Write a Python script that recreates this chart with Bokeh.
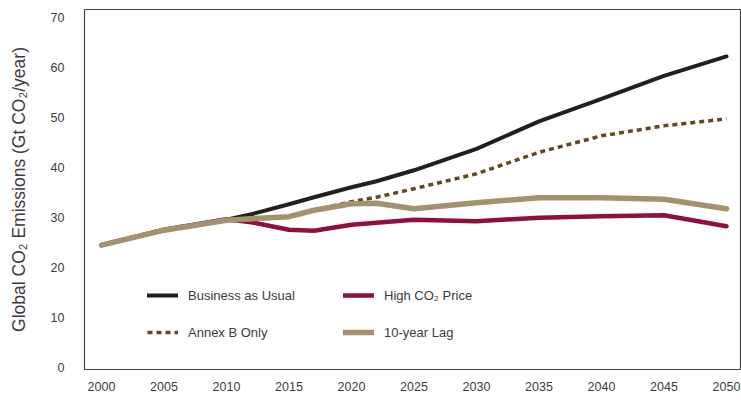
from bokeh.plotting import figure
from bokeh.models import Range1d, FixedTicker, Legend, LegendItem, ColumnDataSource
from bokeh.embed import file_html
from bokeh.resources import INLINE

# ---- data ----
years = [2000, 2005, 2010, 2012, 2015, 2017, 2020, 2022, 2025, 2030, 2035, 2040, 2045, 2050]
business_as_usual = [24.5, 27.5, 29.6, 30.7, 32.7, 34.1, 36.1, 37.3, 39.5, 43.8, 49.3, 53.8, 58.4, 62.3]
annex_b_only = [24.5, 27.5, 29.5, 29.8, 30.2, 31.5, 33.2, 34.1, 35.8, 38.8, 43.1, 46.4, 48.4, 49.8]
high_co2_price = [24.5, 27.6, 29.7, 29.1, 27.6, 27.4, 28.6, 29.0, 29.6, 29.3, 30.0, 30.3, 30.5, 28.3]
ten_year_lag = [24.5, 27.5, 29.5, 29.8, 30.2, 31.5, 32.8, 32.9, 31.8, 33.0, 34.0, 34.0, 33.7, 31.8]

x_ticks = [2000, 2005, 2010, 2015, 2020, 2025, 2030, 2035, 2040, 2045, 2050]
y_ticks = [0, 10, 20, 30, 40, 50, 60, 70]

labels = {
    "bau": "Business as Usual",
    "annex": "Annex B Only",
    "high": "High CO\u2082 Price",
    "lag": "10-year Lag",
}
y_title = "Global CO\u2082 Emissions (Gt CO\u2082/year)"

src = ColumnDataSource(dict(year=years, bau=business_as_usual, annex=annex_b_only,
                            high=high_co2_price, lag=ten_year_lag))

FONT = "Liberation Sans"
TXT = "#3c3c3c"

p = figure(width=741, height=400,
           x_range=Range1d(1998.64, 2051.12), y_range=Range1d(-0.4, 71.7),
           output_backend="svg", toolbar_location=None,
           min_border_left=84, min_border_right=1, min_border_top=9, min_border_bottom=31)
p.xgrid.visible = False
p.ygrid.visible = False
p.outline_line_color = "#444444"
p.outline_line_width = 1.2
p.background_fill_color = "white"
p.border_fill_color = "white"

for ax in (p.xaxis[0], p.yaxis[0]):
    ax.axis_line_color = None
    ax.major_tick_line_color = None
    ax.minor_tick_line_color = None
    ax.major_tick_out = 0
    ax.major_tick_in = 0
    ax.minor_tick_out = 0
    ax.minor_tick_in = 0
    ax.major_label_text_font = FONT
    ax.major_label_text_font_size = "12.5px"
    ax.major_label_text_color = TXT

p.xaxis.ticker = FixedTicker(ticks=x_ticks)
p.yaxis.ticker = FixedTicker(ticks=y_ticks)
p.xaxis.major_label_standoff = 12
p.yaxis.major_label_standoff = 20
p.yaxis.axis_label = y_title
p.yaxis.axis_label_text_font = FONT
p.yaxis.axis_label_text_font_size = "17.5px"
p.yaxis.axis_label_text_font_style = "normal"
p.yaxis.axis_label_text_color = TXT
p.yaxis.axis_label_standoff = 19

r_bau = p.line("year", "bau", source=src, line_color="#231f20", line_width=4,
               line_cap="round", line_join="round")
r_annex = p.line("year", "annex", source=src, line_color="#5e4a1c", line_width=3.5,
                 line_dash="5 4", line_join="round")
r_high = p.line("year", "high", source=src, line_color="#910f3f", line_width=4.5,
                line_cap="round", line_join="round")
r_lag = p.line("year", "lag", source=src, line_color="#a39172", line_width=5.5,
               line_cap="round", line_join="round")

common = dict(orientation="vertical", glyph_width=31, glyph_height=20, label_height=20,
              spacing=17, padding=0, margin=0, label_standoff=10,
              border_line_color=None, background_fill_alpha=0,
              label_text_font=FONT, label_text_font_size="13px", label_text_color=TXT)

leg1 = Legend(items=[LegendItem(label=labels["bau"], renderers=[r_bau]),
                     LegendItem(label=labels["annex"], renderers=[r_annex])],
              location=(63, 27), **common)
leg2 = Legend(items=[LegendItem(label=labels["high"], renderers=[r_high]),
                     LegendItem(label=labels["lag"], renderers=[r_lag])],
              location=(259, 27), **common)
p.add_layout(leg1)
p.add_layout(leg2)

open("out.html", "w").write(file_html(p, INLINE))
